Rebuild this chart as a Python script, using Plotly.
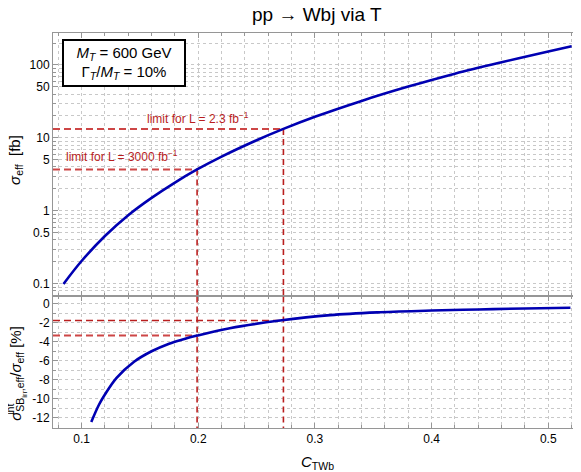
import plotly.graph_objects as go

# ---- data ----
c_top = [0.0845, 0.10, 0.12, 0.14, 0.16, 0.18, 0.199, 0.22, 0.25, 0.273,
         0.30, 0.34, 0.38, 0.42, 0.46, 0.50, 0.52]
sigma_eff = [0.100, 0.206, 0.454, 0.875, 1.51, 2.45, 3.7, 5.55, 9.3, 13.3,
             19.5, 32.2, 50.5, 76, 109, 153, 180]

c_bot = [0.1083, 0.115, 0.12, 0.13, 0.145, 0.16, 0.175, 0.1874, 0.199, 0.227, 0.27,
         0.313, 0.356, 0.40, 0.44, 0.48, 0.519]
sigma_int_ratio = [-12.44, -10.6, -9.55, -7.8, -6.1, -5.0, -4.2, -3.73, -3.35, -2.57, -1.77,
                   -1.2, -0.9, -0.72, -0.6, -0.5, -0.42]

limit_c = [0.199, 0.273]            # C_TWb limits (3000 fb^-1, 2.3 fb^-1)
limit_sigma = [3.7, 13.3]           # sigma_eff at the limits
limit_ratio = [-3.35, -1.77]        # interference ratio at the limits
limit_labels = ["limit for L = 3000 fb<sup>−1</sup>", "limit for L = 2.3 fb<sup>−1</sup>"]

x_ticks = [0.1, 0.2, 0.3, 0.4, 0.5]
y_top_ticks = [0.1, 0.5, 1, 5, 10, 50, 100]
y_top_ticktext = ["0.1", "0.5", "1", "5", "10", "50", "100"]
y_top_minor = [m * 10 ** e for e in (-2, -1, 0, 1, 2) for m in range(1, 10)]
y_bot_ticks = [0, -2, -4, -6, -8, -10, -12]
y_bot_ticktext = ["0", "-2", "-4", "-6", "-8", "-10", "-12"]

# ---- layout constants (page has an 8px body offset) ----
OFF = 8
W, H = 581, 472
ML = 53 - OFF
MT = 33 - OFF
MR = W - (580 - OFF)
MB = H - (428.3 - OFF)
PH = H - MT - MB
PW = W - ML - MR
X_RANGE = [0.0755, 0.5272]
YT_RANGE = [-1.171, 2.438]
YB_RANGE = [-13.07, 0.77]
SPLIT = (428.3 - 296.6) / PH

BLUE = "rgb(0,0,178)"
RED = "rgb(185,30,30)"
RED_L = "rgb(205,70,70)"
FRAME = "rgb(150,150,150)"
GRID = "rgb(200,200,200)"
FONT = "Liberation Sans, Arial, sans-serif"


def py(px):
    return (H - MB - (px - OFF)) / PH


def pxx(px):
    return (px - OFF - ML) / PW


fig = go.Figure()

# dashed limit lines (top panel)
for c, s in zip(limit_c, limit_sigma):
    fig.add_trace(go.Scatter(x=[X_RANGE[0], c], y=[s, s], mode="lines",
                             line=dict(color=RED_L, width=2, dash="7px,4px"),
                             xaxis="x", yaxis="y", hoverinfo="skip", showlegend=False))
    fig.add_trace(go.Scatter(x=[c, c], y=[s, 10 ** YT_RANGE[0]], mode="lines",
                             line=dict(color=RED, width=1.6, dash="6px,4px"),
                             xaxis="x", yaxis="y", hoverinfo="skip", showlegend=False))
# dashed limit lines (bottom panel)
for i, (c, r) in enumerate(zip(limit_c, limit_ratio)):
    fig.add_trace(go.Scatter(x=[X_RANGE[0], c], y=[r, r], mode="lines",
                             line=dict(color=RED_L if i == 0 else RED, width=2 if i == 0 else 1.4,
                                       dash="7px,4px"),
                             xaxis="x2", yaxis="y2", hoverinfo="skip", showlegend=False))
    fig.add_trace(go.Scatter(x=[c, c], y=[YB_RANGE[1], YB_RANGE[0]], mode="lines",
                             line=dict(color=RED, width=1.6, dash="6px,4px"),
                             xaxis="x2", yaxis="y2", hoverinfo="skip", showlegend=False))

fig.add_trace(go.Scatter(x=c_top, y=sigma_eff, mode="lines", line=dict(color=BLUE, width=2.6, shape="spline"),
                         xaxis="x", yaxis="y", showlegend=False))
fig.add_trace(go.Scatter(x=c_bot, y=sigma_int_ratio, mode="lines", line=dict(color=BLUE, width=2.6, shape="spline"),
                         xaxis="x2", yaxis="y2", showlegend=False))

common_x = dict(range=X_RANGE, showline=True, linecolor=FRAME, linewidth=1, mirror="ticks",
                ticks="inside", ticklen=5, tickcolor=FRAME, tickvals=x_ticks,
                showgrid=True, gridcolor=GRID, griddash="dot", gridwidth=1, zeroline=False,
                minor=dict(dtick=0.02, tick0=0, ticks="inside", ticklen=3, tickcolor=FRAME,
                           showgrid=True, gridcolor=GRID, griddash="dot", gridwidth=1))

fig.update_layout(
    width=W, height=H,
    margin=dict(l=ML, r=MR, t=MT, b=MB),
    paper_bgcolor="white", plot_bgcolor="white",
    font=dict(family=FONT, size=12, color="black"),
    xaxis=dict(anchor="y", showticklabels=False, **common_x),
    xaxis2=dict(anchor="y2", matches="x", showticklabels=True, tickfont=dict(size=12), **common_x),
    yaxis=dict(domain=[SPLIT, 1], type="log", range=YT_RANGE, anchor="x",
               showline=True, linecolor=FRAME, linewidth=1, mirror="ticks",
               ticks="inside", ticklen=5, tickcolor=FRAME,
               tickmode="array", tickvals=y_top_ticks, ticktext=y_top_ticktext,
               showgrid=True, gridcolor=GRID, griddash="dot", gridwidth=1,
               minor=dict(tickmode="array", tickvals=y_top_minor, ticks="inside", ticklen=3,
                          tickcolor=FRAME, showgrid=True, gridcolor=GRID, griddash="dot", gridwidth=1)),
    yaxis2=dict(domain=[0, SPLIT], range=YB_RANGE, anchor="x2",
                showline=True, linecolor=FRAME, linewidth=1, mirror="ticks",
                ticks="inside", ticklen=5, tickcolor=FRAME,
                tickmode="array", tickvals=y_bot_ticks, ticktext=y_bot_ticktext,
                showgrid=True, gridcolor=GRID, griddash="dot", gridwidth=1, zeroline=False,
                minor=dict(dtick=1, tick0=0, ticks="inside", ticklen=3, tickcolor=FRAME,
                           showgrid=True, gridcolor=GRID, griddash="dot", gridwidth=1)),
    showlegend=False,
)

ann = []
# title
ann.append(dict(text="pp → Wbj via T", xref="paper", yref="paper", x=pxx(317), y=py(14),
                xanchor="center", yanchor="middle", showarrow=False,
                font=dict(size=19, family=FONT)))
# box
ann.append(dict(text="<i>M</i><sub><i>T</i></sub> = 600 GeV<br>Γ<sub><i>T</i></sub>/<i>M</i><sub><i>T</i></sub> = 10%",
                xref="paper", yref="paper", x=pxx(124), y=py(63.3),
                xanchor="center", yanchor="middle", showarrow=False, align="center",
                width=118, height=42,
                bordercolor="black", borderwidth=2, borderpad=1, bgcolor="white",
                font=dict(size=15, family=FONT)))
# limit labels
ann.append(dict(text=limit_labels[0], xref="x", yref="y", x=X_RANGE[0], y=0.568,
                xanchor="left", yanchor="bottom", xshift=11, yshift=3, showarrow=False,
                font=dict(size=12, color=RED, family=FONT)))
ann.append(dict(text=limit_labels[1], xref="x", yref="y", x=X_RANGE[0], y=1.124,
                xanchor="left", yanchor="bottom", xshift=92, yshift=1, showarrow=False,
                font=dict(size=12, color=RED, family=FONT)))
# axis titles
ann.append(dict(text="<i>σ</i><sub>eff</sub>  [fb]", xref="paper", yref="paper",
                x=pxx(16), y=py(160), textangle=-90,
                xanchor="center", yanchor="middle", showarrow=False, font=dict(size=15, family=FONT)))
ann.append(dict(text="<i>σ</i><sub>SB<sub>irr</sub>,eff</sub>/<i>σ</i><sub>eff</sub> [%]",
                xref="paper", yref="paper",
                x=pxx(18), y=py(374), textangle=-90,
                xanchor="center", yanchor="middle", showarrow=False, font=dict(size=15, family=FONT)))
ann.append(dict(text="int", xref="paper", yref="paper",
                x=pxx(10), y=py(410), textangle=-90,
                xanchor="center", yanchor="middle", showarrow=False, font=dict(size=10.5, family=FONT)))
ann.append(dict(text="<i>C</i><sub>TWb</sub>", xref="paper", yref="paper",
                x=pxx(317), y=py(463), xanchor="center", yanchor="middle",
                showarrow=False, font=dict(size=15, family=FONT)))
fig.update_layout(annotations=ann)

fig.write_html("out.html")
